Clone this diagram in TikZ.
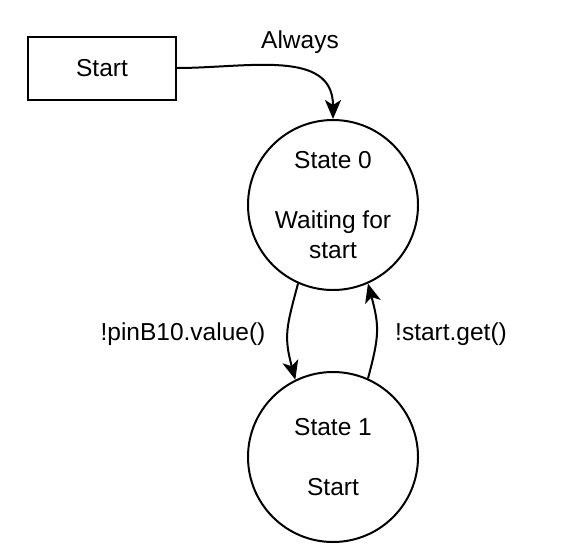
\documentclass[tikz,border=0pt]{standalone}
\usepackage{fontspec}
\setmainfont{Liberation Sans}
\usetikzlibrary{arrows.meta}
\begin{document}
\begin{tikzpicture}[x=1pt,y=-1pt,
  every node/.style={font=\fontsize{24.5}{30}\selectfont},
  boxst/.style={draw,line width=2pt,minimum width=148pt,minimum height=63pt,inner sep=0pt},
  statest/.style={draw,circle,line width=2pt,minimum size=170pt,inner sep=0pt,align=center},
  conn/.style={line width=2pt,-{Stealth[length=19pt,width=16pt,inset=5pt]}},
  lbl/.style={inner sep=0pt}]
\useasboundingbox (0,0) rectangle (561,557);
\node[boxst] (start) at (102,68) {Start};
\node[statest] (s0) at (333,205) {State 0\\[30pt]Waiting for\\start};
\node[statest] (s1) at (333,457) {State 1\\[30pt]Start};
\draw[conn] (start.east) to[out=0,in=90,looseness=1.1] (s0.north);
\draw[conn] (s0.246) to[out=255,in=105,looseness=1.2] (s1.116);
\draw[conn] (s1.66) to[out=75,in=285,looseness=1.2] (s0.294);
\node[lbl] (l1) at (300,42) {Always};
\node[lbl] (l2) at (183,334) {!pinB10.value()};
\node[lbl] (l3) at (451,334) {!start.get()};
\end{tikzpicture}
\end{document}
